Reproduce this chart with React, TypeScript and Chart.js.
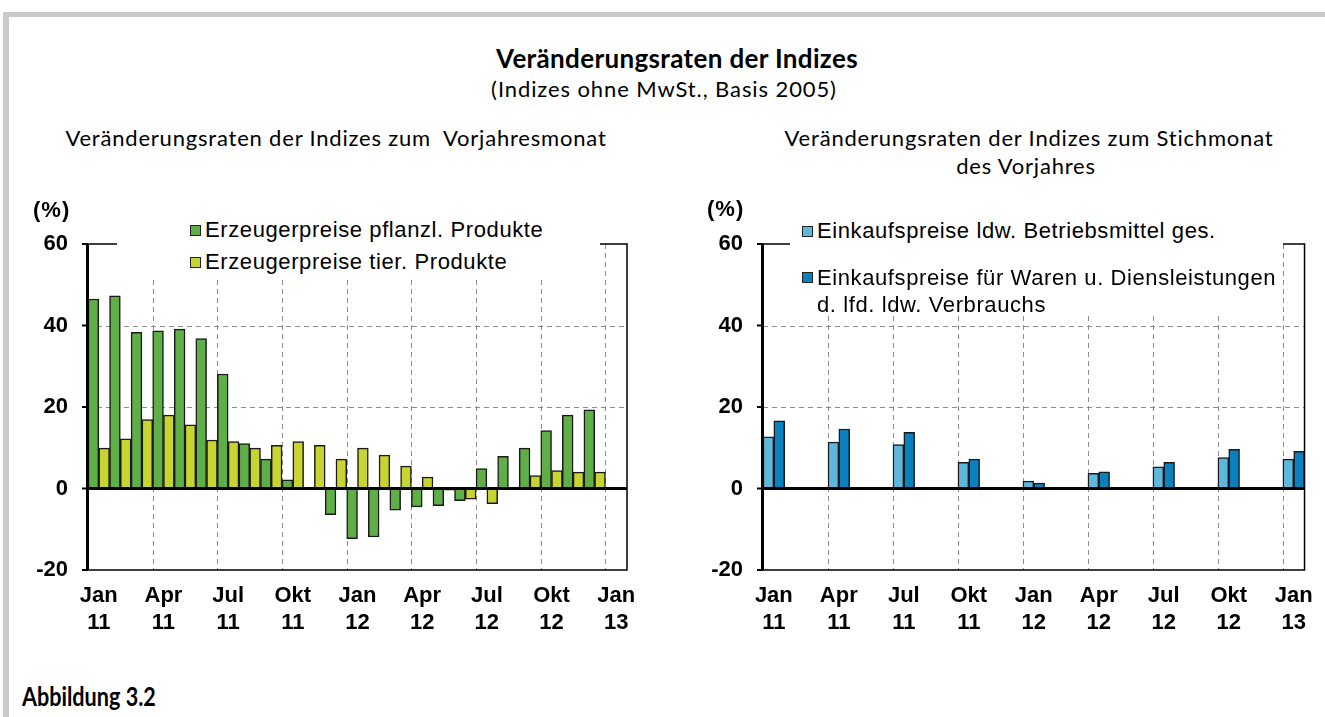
import React, { useEffect, useRef } from "react";
import { Chart, registerables } from "chart.js";

Chart.register(...registerables);

// ---------- data ----------
const categories = [
  "Jan 11", "Feb 11", "Mär 11", "Apr 11", "Mai 11", "Jun 11", "Jul 11", "Aug 11", "Sep 11", "Okt 11", "Nov 11", "Dez 11",
  "Jan 12", "Feb 12", "Mär 12", "Apr 12", "Mai 12", "Jun 12", "Jul 12", "Aug 12", "Sep 12", "Okt 12", "Nov 12", "Dez 12",
  "Jan 13",
];

// Left chart: change vs. same month of previous year (%)
const pflanzlProdukte = [
  46.5, 47.3, 38.3, 38.7, 39.1, 36.8, 28.1, 11.0, 7.2, 2.1, -0.2, -6.4,
  -12.3, -11.9, -5.3, -4.5, -4.2, -3.0, 4.9, 7.9, 9.9, 14.2, 18.0, 19.3,
  null,
];
const tierProdukte = [
  9.9, 12.2, 16.9, 18.0, 15.6, 11.9, 11.5, 9.9, 10.6, 11.5, 10.6, 7.2,
  9.9, 8.2, 5.5, 2.8, -0.4, -2.6, -3.7, 0.0, 3.2, 4.4, 4.0, 4.0,
  null,
];

// Right chart: change vs. reference month of previous year (%), quarterly
const betriebsmittel = [
  12.7, null, null, 11.4, null, null, 10.8, null, null, 6.4, null, null,
  1.8, null, null, 3.7, null, null, 5.3, null, null, 7.6, null, null,
  7.2,
];
const warenDienstleistungen = [
  16.6, null, null, 14.6, null, null, 13.8, null, null, 7.2, null, null,
  1.3, null, null, 4.1, null, null, 6.4, null, null, 9.6, null, null,
  9.1,
];

const yTicks = [-20, 0, 20, 40, 60];
const yGridValues = [20, 40];
const yMin = -20;
const yMax = 60;

const leftLegend = ["Erzeugerpreise pflanzl. Produkte", "Erzeugerpreise tier. Produkte"];
const rightLegend = [
  ["Einkaufspreise ldw. Betriebsmittel ges."],
  ["Einkaufspreise für Waren u. Diensleistungen", "d. lfd. ldw. Verbrauchs"],
];

// ---------- styles ----------
const GREEN = "#60AE47";
const YELLOW = "#C8D42F";
const LIGHT_BLUE = "#5EB8DD";
const DARK_BLUE = "#0A80BF";
const BAR_BORDER = "#1a1a1a";
const GRID = "#8c8c8c";
const AXIS_FONT = '"Liberation Sans", Arial, Helvetica, sans-serif';
const TITLE_FONT = 'Lato, "Open Sans", sans-serif';

const framePlugin = {
  id: "framePlugin",
  beforeDatasetsDraw(chart: any) {
    const { ctx, chartArea: a, scales } = chart;
    const x = scales.x;
    const y = scales.y;
    ctx.save();
    ctx.strokeStyle = GRID;
    ctx.lineWidth = 1;
    ctx.setLineDash([5, 4]);
    for (const v of yGridValues) {
      const py = Math.round(y.getPixelForValue(v)) + 0.5;
      ctx.beginPath();
      ctx.moveTo(a.left, py);
      ctx.lineTo(a.right, py);
      ctx.stroke();
    }
    for (let i = 3; i < categories.length; i += 3) {
      const px = Math.round((x.getPixelForValue(i - 1) + x.getPixelForValue(i)) / 2) + 0.5;
      ctx.beginPath();
      ctx.moveTo(px, a.top);
      ctx.lineTo(px, a.bottom);
      ctx.stroke();
    }
    ctx.restore();
  },
  afterDatasetsDraw(chart: any) {
    const { ctx, chartArea: a, scales } = chart;
    const y = scales.y;
    ctx.save();
    ctx.setLineDash([]);
    ctx.strokeStyle = "#000";
    // thin frame: top, right, bottom
    ctx.lineWidth = 1.5;
    ctx.beginPath();
    ctx.moveTo(a.left, a.top);
    ctx.lineTo(a.right, a.top);
    ctx.lineTo(a.right, a.bottom);
    ctx.lineTo(a.left, a.bottom);
    ctx.stroke();
    // y-axis tick marks
    ctx.lineWidth = 2;
    for (const v of yTicks) {
      const py = y.getPixelForValue(v);
      ctx.beginPath();
      ctx.moveTo(a.left - 6, py);
      ctx.lineTo(a.left, py);
      ctx.stroke();
    }
    // thick y axis
    ctx.lineWidth = 3;
    ctx.beginPath();
    ctx.moveTo(a.left - 0.5, a.top);
    ctx.lineTo(a.left - 0.5, a.bottom);
    ctx.stroke();
    // zero line
    const zy = y.getPixelForValue(0);
    ctx.beginPath();
    ctx.moveTo(a.left - 2, zy);
    ctx.lineTo(a.right, zy);
    ctx.stroke();
    ctx.restore();
  },
};

type ChartProps = {
  left: number;
  top: number;
  width: number;
  height: number;
  yWidth: number;
  padTop: number;
  padRight: number;
  xHeight: number;
  series: { label: string; data: (number | null)[]; color: string }[];
};

function BarChart(p: ChartProps) {
  const ref = useRef<HTMLCanvasElement | null>(null);
  useEffect(() => {
    if (!ref.current) return;
    const tickFont = { family: AXIS_FONT, size: 22, weight: "bold" as const, lineHeight: 27 / 22 };
    const chart = new Chart(ref.current, {
      type: "bar",
      data: {
        labels: categories,
        datasets: p.series.map((s) => ({
          label: s.label,
          data: s.data,
          backgroundColor: s.color,
          borderColor: BAR_BORDER,
          borderWidth: 1.5,
          borderSkipped: false,
          barPercentage: 1,
          categoryPercentage: 1,
        })),
      },
      options: {
        responsive: false,
        maintainAspectRatio: false,
        animation: false,
        layout: { padding: { top: p.padTop, right: p.padRight, left: 0, bottom: 0 } },
        plugins: {
          legend: { display: false },
          tooltip: { enabled: false },
          title: { display: false },
        },
        scales: {
          x: {
            type: "category",
            offset: true,
            grid: { display: false, drawTicks: false },
            border: { display: false },
            ticks: {
              autoSkip: false,
              maxRotation: 0,
              minRotation: 0,
              padding: 12,
              color: "#000",
              font: tickFont,
              callback: (_v: any, i: number) => (i % 3 === 0 ? categories[i].split(" ") : ""),
            },
            afterFit: (s: any) => {
              s.height = p.xHeight;
            },
          },
          y: {
            min: yMin,
            max: yMax,
            grid: { display: false, drawTicks: false },
            border: { display: false },
            ticks: { stepSize: 20, padding: 20, color: "#000", font: tickFont },
            afterBuildTicks: (s: any) => {
              s.ticks = yTicks.map((v) => ({ value: v }));
            },
            afterFit: (s: any) => {
              s.width = p.yWidth;
            },
          },
        },
      },
      plugins: [framePlugin],
    } as any);
    return () => chart.destroy();
  }, []);
  return (
    <canvas
      ref={ref}
      width={p.width}
      height={p.height}
      style={{ position: "absolute", left: p.left, top: p.top, width: p.width, height: p.height }}
    />
  );
}

function Square({ x, y, color }: { x: number; y: number; color: string }) {
  return (
    <div
      style={{
        position: "absolute",
        left: x,
        top: y,
        width: 11,
        height: 11,
        boxSizing: "border-box",
        border: "1px solid #222",
        background: color,
      }}
    />
  );
}

function LegendText({ x, cy, text }: { x: number; cy: number; text: string }) {
  return (
    <div
      style={{
        position: "absolute",
        left: x,
        top: cy - 13.8,
        fontFamily: AXIS_FONT,
        fontSize: 22,
        lineHeight: "27px",
        letterSpacing: 0.6,
        whiteSpace: "pre",
        color: "#000",
      }}
    >
      {text}
    </div>
  );
}

function TitleText({
  text, cx, capTop, size, bold, spacing,
}: { text: string; cx: number; capTop: number; size: number; bold?: boolean; spacing?: number }) {
  return (
    <div
      style={{
        position: "absolute",
        left: cx - 600,
        width: 1200,
        textAlign: "center",
        top: capTop - 0.27 * size,
        fontFamily: TITLE_FONT,
        fontSize: size,
        fontWeight: bold ? 700 : 400,
        lineHeight: 1.2,
        letterSpacing: spacing ?? 0,
        whiteSpace: "pre",
        color: "#000",
      }}
    >
      {text}
    </div>
  );
}

export default function App() {
  return (
    <div
      style={{
        position: "absolute",
        left: 0,
        top: 0,
        width: 1325,
        height: 717,
        background: "#fff",
        overflow: "hidden",
      }}
    >
      {/* frame */}
      <div style={{ position: "absolute", left: 3, top: 12, width: 1322, height: 5, background: "#cbcbcb" }} />
      <div style={{ position: "absolute", left: 3, top: 12, width: 6, height: 705, background: "#cbcbcb" }} />

      <TitleText text="Veränderungsraten der Indizes" cx={677} capTop={50} size={26} bold spacing={0.35} />
      <TitleText text="(Indizes ohne MwSt., Basis 2005)" cx={664} capTop={82} size={22} spacing={0.9} />
      <TitleText text="Veränderungsraten der Indizes zum  Vorjahresmonat" cx={336} capTop={131} size={22} spacing={0.8} />
      <TitleText text="Veränderungsraten der Indizes zum Stichmonat" cx={1029} capTop={131} size={22} spacing={0.8} />
      <TitleText text="des Vorjahres" cx={1026} capTop={159} size={22} spacing={0.8} />

      <BarChart
        left={0}
        top={190}
        width={660}
        height={460}
        yWidth={88}
        padTop={54}
        padRight={33}
        xHeight={80}
        series={[
          { label: leftLegend[0], data: pflanzlProdukte, color: GREEN },
          { label: leftLegend[1], data: tierProdukte, color: YELLOW },
        ]}
      />
      <BarChart
        left={670}
        top={190}
        width={655}
        height={460}
        yWidth={93}
        padTop={54}
        padRight={17}
        xHeight={80}
        series={[
          { label: rightLegend[0][0], data: betriebsmittel, color: LIGHT_BLUE },
          { label: rightLegend[1].join(" "), data: warenDienstleistungen, color: DARK_BLUE },
        ]}
      />

      {/* axis unit labels */}
      <div style={{ position: "absolute", left: 33, top: 196, fontFamily: AXIS_FONT, fontWeight: 700, fontSize: 22, lineHeight: "27px", letterSpacing: 1 }}>(%)</div>
      <div style={{ position: "absolute", left: 707, top: 195, fontFamily: AXIS_FONT, fontWeight: 700, fontSize: 22, lineHeight: "27px", letterSpacing: 1 }}>(%)</div>

      {/* left legend */}
      <div style={{ position: "absolute", left: 117, top: 212, width: 483, height: 68, background: "#fff" }} />
      <Square x={190} y={225} color={GREEN} />
      <LegendText x={205} cy={230} text={leftLegend[0]} />
      <Square x={190} y={257} color={YELLOW} />
      <LegendText x={205} cy={262} text={leftLegend[1]} />

      {/* right legend */}
      <div style={{ position: "absolute", left: 790, top: 212, width: 493, height: 103, background: "#fff" }} />
      <Square x={802} y={226} color={LIGHT_BLUE} />
      <LegendText x={817} cy={230.5} text={rightLegend[0][0]} />
      <Square x={802} y={272} color={DARK_BLUE} />
      <LegendText x={817} cy={277.5} text={rightLegend[1][0]} />
      <LegendText x={817} cy={304.5} text={rightLegend[1][1]} />

      <div
        style={{
          position: "absolute",
          left: 22,
          top: 687 - 0.27 * 27,
          fontFamily: TITLE_FONT,
          fontWeight: 700,
          fontSize: 27,
          lineHeight: 1.2,
          color: "#000",
          whiteSpace: "pre",
          transform: "scaleX(0.8)",
          transformOrigin: "0 0",
        }}
      >
        Abbildung 3.2
      </div>
    </div>
  );
}
